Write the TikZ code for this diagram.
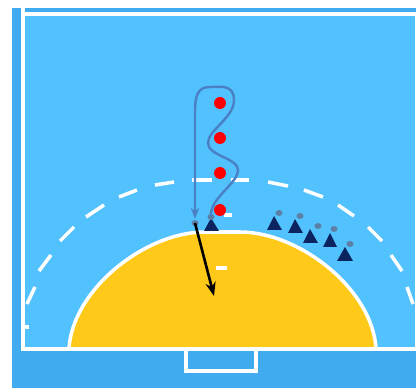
\documentclass[tikz,border=0pt]{standalone}
\usepackage{tikz}
\usetikzlibrary{arrows.meta, calc}
\definecolor{courtblue}{HTML}{52C2FF}
\definecolor{outblue}{HTML}{40ABEE}
\definecolor{areayellow}{HTML}{FFC91A}
\definecolor{pathblue}{HTML}{4A80C4}
\definecolor{navy}{HTML}{0B2460}
\definecolor{capgray}{HTML}{5C7FA6}
\begin{document}
\begin{tikzpicture}[
  x=0.02cm, y=-0.02cm,
  >=Stealth,
  courtline/.style={draw=white, line width=2pt},
  freedash/.style={draw=white, line width=2pt},
  runpath/.style={draw=pathblue, line width=1.4pt},
  cone/.style={fill=navy},
  playercap/.style={fill=capgray},
  ball/.style={fill=red}
  ]
  \useasboundingbox (0,0) rectangle (416,388);
  % floor and court
  \fill[outblue] (12,8) rectangle (416,388);
  \fill[courtblue] (23,14) rectangle (416,349);
  \draw[courtline] (23,8) -- (23,349) -- (416,349);
  \draw[courtline] (23,14) -- (416,14);
  \draw[white, line width=0.6pt] (415.5,14) -- (415.5,349);
  % goal
  \draw[courtline] (186,349) -- (186,371) -- (256,371) -- (256,349);
  % goal area
  \draw[courtline, fill=areayellow] (69,349) .. controls (72,290) and (145,232) .. (205,232)
    -- (240,232) .. controls (300,232) and (373,290) .. (376,349) -- cycle;
  % free throw line
  \draw[freedash] (27,304) -- (35,287);
  \draw[freedash] (39,271) -- (51,255);
  \draw[freedash] (60,241) -- (74,227);
  \draw[freedash] (86,217) -- (104,205);
  \draw[freedash] (119,197) -- (137,190);
  \draw[freedash] (155,185) -- (174,182);
  \draw[freedash] (192,180) -- (212,180);
  \draw[freedash] (231,180) -- (249,180);
  \draw[freedash] (268,182) -- (288,186);
  \draw[freedash] (304,190) -- (323,197);
  \draw[freedash] (338,205) -- (354,216);
  \draw[freedash] (368,227) -- (382,241);
  \draw[freedash] (391,255) -- (402,271);
  \draw[freedash] (407,287) -- (413,304);
  % small marks
  \draw[courtline] (216,268) -- (227,268);
  \draw[courtline] (224,215) -- (232,215);
  \draw[courtline, line width=2.8pt] (23,327) -- (29,327);
  % balls
  \coordinate (ball1) at (220,103);
  \coordinate (ball2) at (220,138);
  \coordinate (ball3) at (220,173);
  \coordinate (ball4) at (220,210);
  \fill[ball] (ball1) circle (6);
  \fill[ball] (ball2) circle (6);
  \fill[ball] (ball3) circle (6);
  \fill[ball] (ball4) circle (6);
  % cones
  \fill[cone] (211,218) -- (219,231) -- (204,231) -- cycle;
  \fill[cone] (274,216) -- (282,230) -- (267,230) -- cycle;
  \fill[cone] (295,219) -- (303,233) -- (288,233) -- cycle;
  \fill[cone] (310,229) -- (318,243) -- (303,243) -- cycle;
  \fill[cone] (330,233) -- (337,247) -- (323,247) -- cycle;
  \fill[cone] (345,247) -- (353,261) -- (337,261) -- cycle;
  % caps
  \coordinate (shooter) at (195,223);
  \coordinate (start) at (211,217);
  \fill[playercap] (shooter) ellipse (3.5 and 3);
  \fill[playercap] (start) ellipse (3.5 and 3);
  \fill[playercap] (279,213) ellipse (3.5 and 3);
  \fill[playercap] (300,216) ellipse (3.5 and 3);
  \fill[playercap] (318,226) ellipse (3.5 and 3);
  \fill[playercap] (334,229) ellipse (3.5 and 3);
  \fill[playercap] (350,244) ellipse (3.5 and 3);
  % run around the balls
  \coordinate (turn) at (195,219);
  \draw[runpath, -{Stealth[scale=0.7]}] (start) .. controls (209,198) and (238,184) .. (238,170)
    .. controls (238,158) and (208,156) .. (208,143)
    .. controls (208,130) and (234,118) .. (234,100)
    .. controls (234,84) and (220,87) .. (210,87)
    .. controls (198,87) and (195,95) .. (195,112) -- (turn);
  % shot
  \coordinate (aim) at (214,296);
  \draw[-{Stealth[scale=0.8]}, line width=1.5pt, black] (shooter) -- (aim);
\end{tikzpicture}
\end{document}
